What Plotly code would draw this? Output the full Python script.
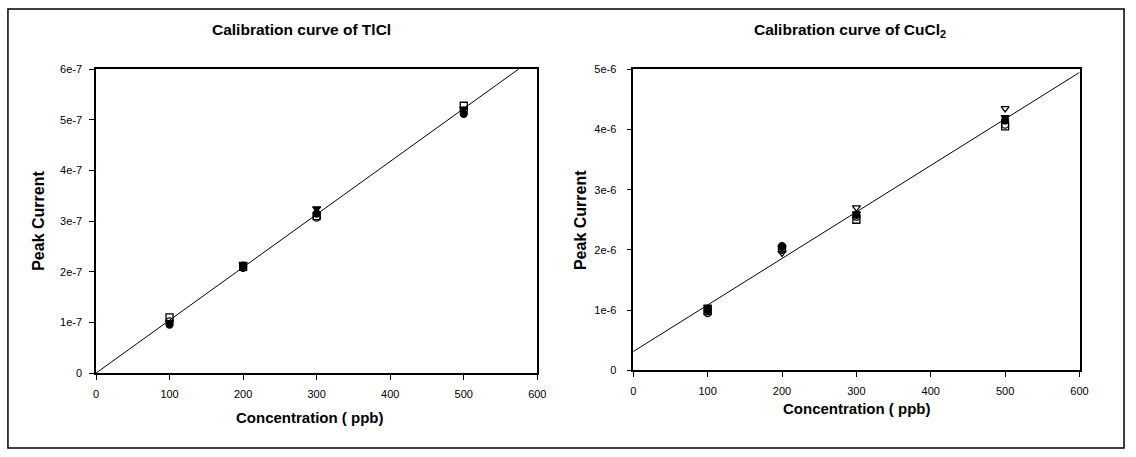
import plotly.graph_objects as go

# ---------------- data ----------------
conc = [100, 200, 300, 500]

# TlCl (left)
tl_filled_circle = [0.96e-7, 2.12e-7, 3.15e-7, 5.12e-7]
tl_open_circle = [1.02e-7, 2.08e-7, 3.07e-7, 5.18e-7]
tl_open_square = [1.10e-7, 2.10e-7, 3.10e-7, 5.28e-7]
tl_filled_tri = [1.00e-7, 2.15e-7, 3.25e-7, 5.22e-7]
tl_slope, tl_intercept = 1.045e-9, 0.0

# CuCl2 (right)
cu_filled_circle = [1.00e-6, 2.06e-6, 2.58e-6, 4.15e-6]
cu_open_circle = [0.95e-6, 2.00e-6, 2.55e-6, 4.08e-6]
cu_open_square = [0.98e-6, 2.02e-6, 2.50e-6, 4.05e-6]
cu_filled_tri = [1.05e-6, 2.03e-6, 2.60e-6, 4.20e-6]
cu_open_tri = [1.02e-6, 1.95e-6, 2.70e-6, 4.35e-6]
cu_slope, cu_intercept = 7.73e-9, 0.31e-6

x_ticks = [0, 100, 200, 300, 400, 500, 600]
tl_yticks = [0, 1e-7, 2e-7, 3e-7, 4e-7, 5e-7, 6e-7]
tl_ylabels = ["0", "1e-7", "2e-7", "3e-7", "4e-7", "5e-7", "6e-7"]
cu_yticks = [0, 1e-6, 2e-6, 3e-6, 4e-6, 5e-6]
cu_ylabels = ["0", "1e-6", "2e-6", "3e-6", "4e-6", "5e-6"]
fit_x = [0, 600]

W, H = 1136, 457
fig = go.Figure()

def add_pts(y, sym, xa, ya):
    fig.add_trace(go.Scatter(
        x=conc, y=y, mode="markers", xaxis=xa, yaxis=ya, showlegend=False,
        marker=dict(symbol=sym, size=7, color="black",
                    line=dict(color="black", width=1.3)),
        cliponaxis=False))

# fit lines
fig.add_trace(go.Scatter(x=fit_x, y=[tl_intercept + tl_slope * v for v in fit_x],
                         mode="lines", line=dict(color="black", width=1),
                         xaxis="x", yaxis="y", showlegend=False))
fig.add_trace(go.Scatter(x=fit_x, y=[cu_intercept + cu_slope * v for v in fit_x],
                         mode="lines", line=dict(color="black", width=1),
                         xaxis="x2", yaxis="y2", showlegend=False))

add_pts(tl_open_square, "square-open", "x", "y")
add_pts(tl_open_circle, "circle-open", "x", "y")
add_pts(tl_filled_circle, "circle", "x", "y")
add_pts(tl_filled_tri, "triangle-down", "x", "y")

add_pts(cu_open_square, "square-open", "x2", "y2")
add_pts(cu_open_circle, "circle-open", "x2", "y2")
add_pts(cu_filled_circle, "circle", "x2", "y2")
add_pts(cu_filled_tri, "triangle-down", "x2", "y2")
add_pts(cu_open_tri, "triangle-down-open", "x2", "y2")

tickfont = dict(family="Arial, Liberation Sans, sans-serif", size=11, color="black")
axis_common = dict(showgrid=False, zeroline=False, showline=True, linecolor="black",
                   linewidth=1.5, mirror=True, ticks="outside", ticklen=5,
                   tickcolor="black", tickwidth=1, tickfont=tickfont)

def px_x(p):
    return p / W

def px_y(p):
    return 1 - p / H

fig.update_layout(
    width=W, height=H, margin=dict(l=0, r=0, t=0, b=0),
    paper_bgcolor="white", plot_bgcolor="white",
    xaxis=dict(domain=[px_x(94), px_x(540)], range=[0, 600], tickvals=x_ticks,
               anchor="y", ticklabelstandoff=5, **axis_common),
    yaxis=dict(domain=[px_y(377), px_y(65)], range=[0, 6e-7], tickvals=tl_yticks,
               ticktext=tl_ylabels, anchor="x", ticklabelstandoff=5, **axis_common),
    xaxis2=dict(domain=[px_x(637), px_x(1088)], range=[0, 600], tickvals=x_ticks,
                anchor="y2", ticklabelstandoff=5, **axis_common),
    yaxis2=dict(domain=[px_y(374), px_y(65)], range=[0, 5e-6], tickvals=cu_yticks,
                ticktext=cu_ylabels, anchor="x2", ticklabelstandoff=8, **axis_common),
)

bold = dict(family="Arial, Liberation Sans, sans-serif", size=15, color="black")
ybold = dict(family="Arial, Liberation Sans, sans-serif", size=16, color="black")
title_font = dict(family="Arial, Liberation Sans, sans-serif", size=15.5, color="black")
annots = [
    dict(text="<b>Calibration curve of TlCl</b>", x=px_x(302), y=px_y(24), font=title_font),
    dict(text="<b>Calibration curve of CuCl<sub>2</sub></b>", x=px_x(856), y=px_y(25), font=title_font),
    dict(text="<b>Concentration ( ppb)</b>", x=px_x(310), y=px_y(423), font=bold),
    dict(text="<b>Concentration ( ppb)</b>", x=px_x(863), y=px_y(413), font=bold),
    dict(text="<b>Peak Current</b>", x=px_x(36), y=px_y(221), font=ybold, textangle=-90),
    dict(text="<b>Peak Current</b>", x=px_x(583), y=px_y(220), font=ybold, textangle=-90),
]
for a in annots:
    fig.add_annotation(xref="paper", yref="paper", showarrow=False,
                       xanchor="center", yanchor="middle", **a)

fig.add_shape(type="rect", xref="paper", yref="paper",
              x0=px_x(5), x1=px_x(1133), y0=px_y(454), y1=px_y(3),
              line=dict(color="black", width=1.5))

fig.write_html("out.html")
